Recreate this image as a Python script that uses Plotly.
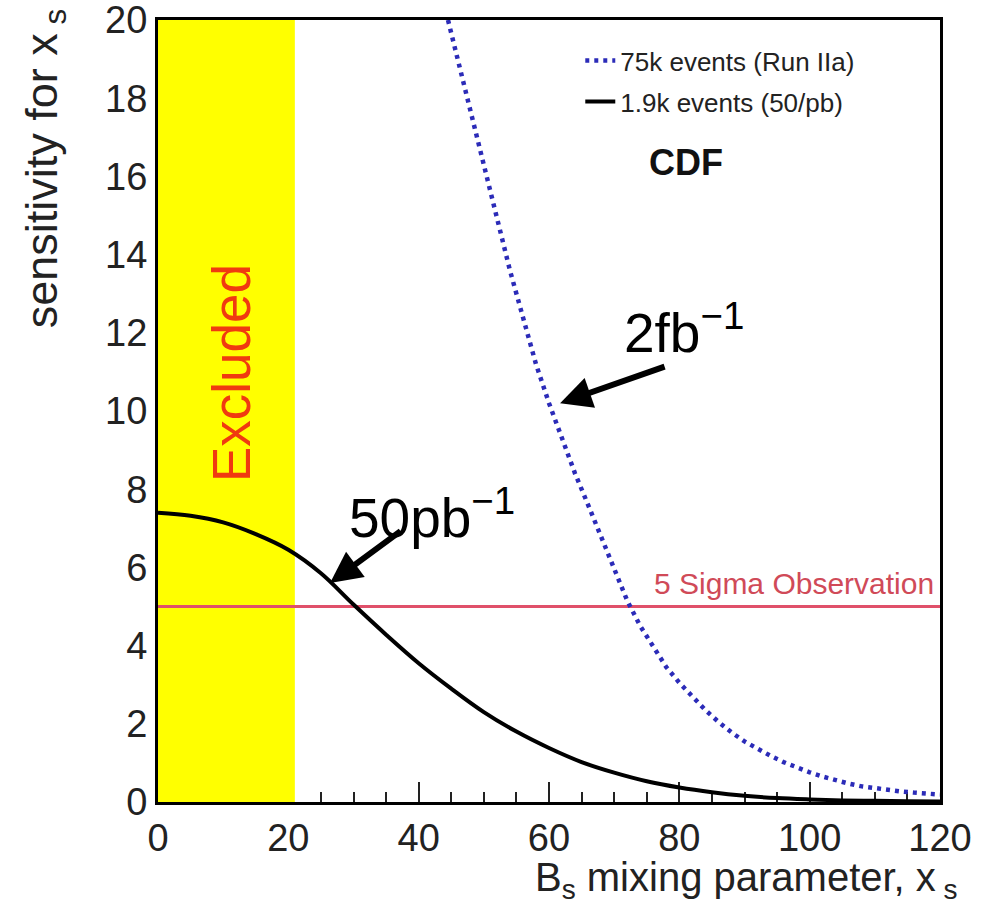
import plotly.graph_objects as go

# ---- data ----
x_black = [0, 5, 10, 15, 20, 25, 30, 35, 40, 45, 50, 55, 60, 65, 70, 75, 80, 85, 90, 95, 100, 105, 110, 115, 120]
y_black = [7.4, 7.32, 7.15, 6.85, 6.45, 5.85, 5.05, 4.28, 3.55, 2.9, 2.3, 1.8, 1.38, 1.02, 0.75, 0.53, 0.37, 0.25, 0.16, 0.1, 0.065, 0.04, 0.03, 0.02, 0.01]

x_blue = [44.5, 46, 48, 50, 52, 54, 56, 58, 60, 62, 64, 66, 68, 70, 72, 74, 76, 78, 80, 82, 84, 86, 88, 90,
          92, 94, 96, 98, 100, 102, 104, 106, 108, 110, 112, 114, 116, 118, 120]
y_blue = [20, 19.0, 17.6, 16.3, 15.0, 13.6, 12.4, 11.2, 10.2, 9.3, 8.4, 7.6, 6.8, 5.95, 5.15, 4.5, 3.95, 3.45, 3.05,
          2.7, 2.35, 2.05, 1.78, 1.55, 1.35, 1.18, 1.02, 0.88, 0.76, 0.65, 0.55, 0.47, 0.4, 0.35, 0.31, 0.27, 0.24, 0.21, 0.19]

excluded_range = [0, 21]
sigma_level = 5
x_range = [0, 120]
y_range = [0, 20]
x_tickvals = [0, 20, 40, 60, 80, 100, 120]
y_tickvals = [0, 2, 4, 6, 8, 10, 12, 14, 16, 18, 20]

series_names = ["75k events (Run IIa)", "1.9k events (50/pb)"]
arrow_2fb_tip = (61.7, 10.2)
arrow_50pb_tip = (26.4, 5.6)

FONT = "Liberation Sans, Arial, Helvetica, sans-serif"

fig = go.Figure()

# excluded band (as a filled trace so axis ticks beneath it are hidden)
fig.add_trace(go.Scatter(
    x=[excluded_range[0], excluded_range[1], excluded_range[1], excluded_range[0], excluded_range[0]],
    y=[y_range[0], y_range[0], y_range[1], y_range[1], y_range[0]],
    fill="toself", fillcolor="#ffff00", line=dict(width=0), mode="lines",
    showlegend=False, hoverinfo="skip"))

# 5 sigma line
fig.add_trace(go.Scatter(
    x=x_range, y=[sigma_level, sigma_level], mode="lines",
    line=dict(color="#e0506a", width=3), showlegend=False, hoverinfo="skip"))

fig.add_trace(go.Scatter(
    x=x_blue, y=y_blue, mode="lines", name=series_names[0],
    line=dict(color="#2b2bb8", width=4.5, dash="4px,5px"), legendgroup="a"))

fig.add_trace(go.Scatter(
    x=x_black, y=y_black, mode="lines", name=series_names[1],
    line=dict(color="black", width=4, shape="spline"), legendgroup="b"))

fig.update_layout(
    width=1000, height=917,
    margin=dict(l=158, r=60, t=20, b=115, autoexpand=False),
    paper_bgcolor="white", plot_bgcolor="white",
    font=dict(family=FONT, color="#222222"),
    showlegend=True,
    legend=dict(x=0.54, y=0.978, xanchor="left", yanchor="top",
                bgcolor="rgba(0,0,0,0)", borderwidth=0,
                font=dict(size=26, family=FONT),
                tracegroupgap=4, itemwidth=30),
)

fig.update_xaxes(
    range=x_range, showgrid=False, zeroline=False, automargin=False,
    showline=True, linecolor="black", linewidth=3, mirror=True,
    layer="below traces", ticklabeloverflow="allow",
    tickmode="array", tickvals=x_tickvals,
    ticks="inside", ticklen=20, tickwidth=1.5, tickcolor="#222222",
    minor=dict(dtick=5, ticks="inside", ticklen=10, tickwidth=1.5, tickcolor="#222222"),
    tickfont=dict(size=38, family=FONT, color="#222222"),
)
fig.update_yaxes(
    range=y_range, showgrid=False, zeroline=False, automargin=False,
    showline=True, linecolor="black", linewidth=3, mirror=True,
    layer="below traces", ticklabeloverflow="allow",
    tickmode="array", tickvals=y_tickvals, ticks="",
    tickfont=dict(size=38, family=FONT, color="#222222"),
)

anns = []
# axis titles
anns.append(dict(xref="paper", yref="paper", x=1.025, y=-0.1, xanchor="right", yanchor="middle",
                 text="B<sub>s</sub> mixing parameter, x<sub> s</sub>", showarrow=False,
                 font=dict(size=40, family=FONT, color="#222222")))
anns.append(dict(xref="paper", yref="paper", x=-0.145, y=1.017, xanchor="center", yanchor="top",
                 text="sensitivity for x<sub> s</sub>", textangle=-90, showarrow=False,
                 font=dict(size=45, family=FONT, color="#222222")))
# Excluded
anns.append(dict(xref="x", yref="paper", x=(excluded_range[0] + excluded_range[1]) / 2 + 0.8, y=0.548,
                 xanchor="center", yanchor="middle",
                 text="Excluded", textangle=-90, showarrow=False,
                 font=dict(size=53, family=FONT, color="#f03a10")))
# CDF
anns.append(dict(xref="paper", yref="paper", x=0.675, y=0.818, xanchor="center", yanchor="middle",
                 text="<b>CDF</b>", showarrow=False,
                 font=dict(size=36, family=FONT, color="#111111")))
# 5 sigma label
anns.append(dict(xref="paper", yref="y", x=0.995, y=sigma_level, xanchor="right", yanchor="bottom", yshift=5,
                 text="5 Sigma Observation", showarrow=False,
                 font=dict(size=30, family=FONT, color="#d04a58")))
# 2fb^-1 label and arrow
anns.append(dict(xref="paper", yref="paper", x=0.673, y=0.605, xanchor="center", yanchor="middle",
                 text="2fb<sup>\u22121</sup>", showarrow=False,
                 font=dict(size=55, family=FONT, color="black")))
anns.append(dict(x=arrow_2fb_tip[0], y=arrow_2fb_tip[1], xref="x", yref="y", text="",
                 showarrow=True, ax=106, ay=-37, arrowhead=2, arrowsize=1.05, arrowwidth=6,
                 arrowcolor="black", standoff=0))
# 50pb^-1 label and arrow
anns.append(dict(xref="paper", yref="paper", x=0.35, y=0.368, xanchor="center", yanchor="middle",
                 text="50pb<sup>\u22121</sup>", showarrow=False,
                 font=dict(size=55, family=FONT, color="black")))
anns.append(dict(x=arrow_50pb_tip[0], y=arrow_50pb_tip[1], xref="x", yref="y", text="",
                 showarrow=True, ax=72, ay=-53, arrowhead=2, arrowsize=1.05, arrowwidth=6,
                 arrowcolor="black", standoff=0))

fig.update_layout(annotations=anns)

fig.write_html("out.html")
